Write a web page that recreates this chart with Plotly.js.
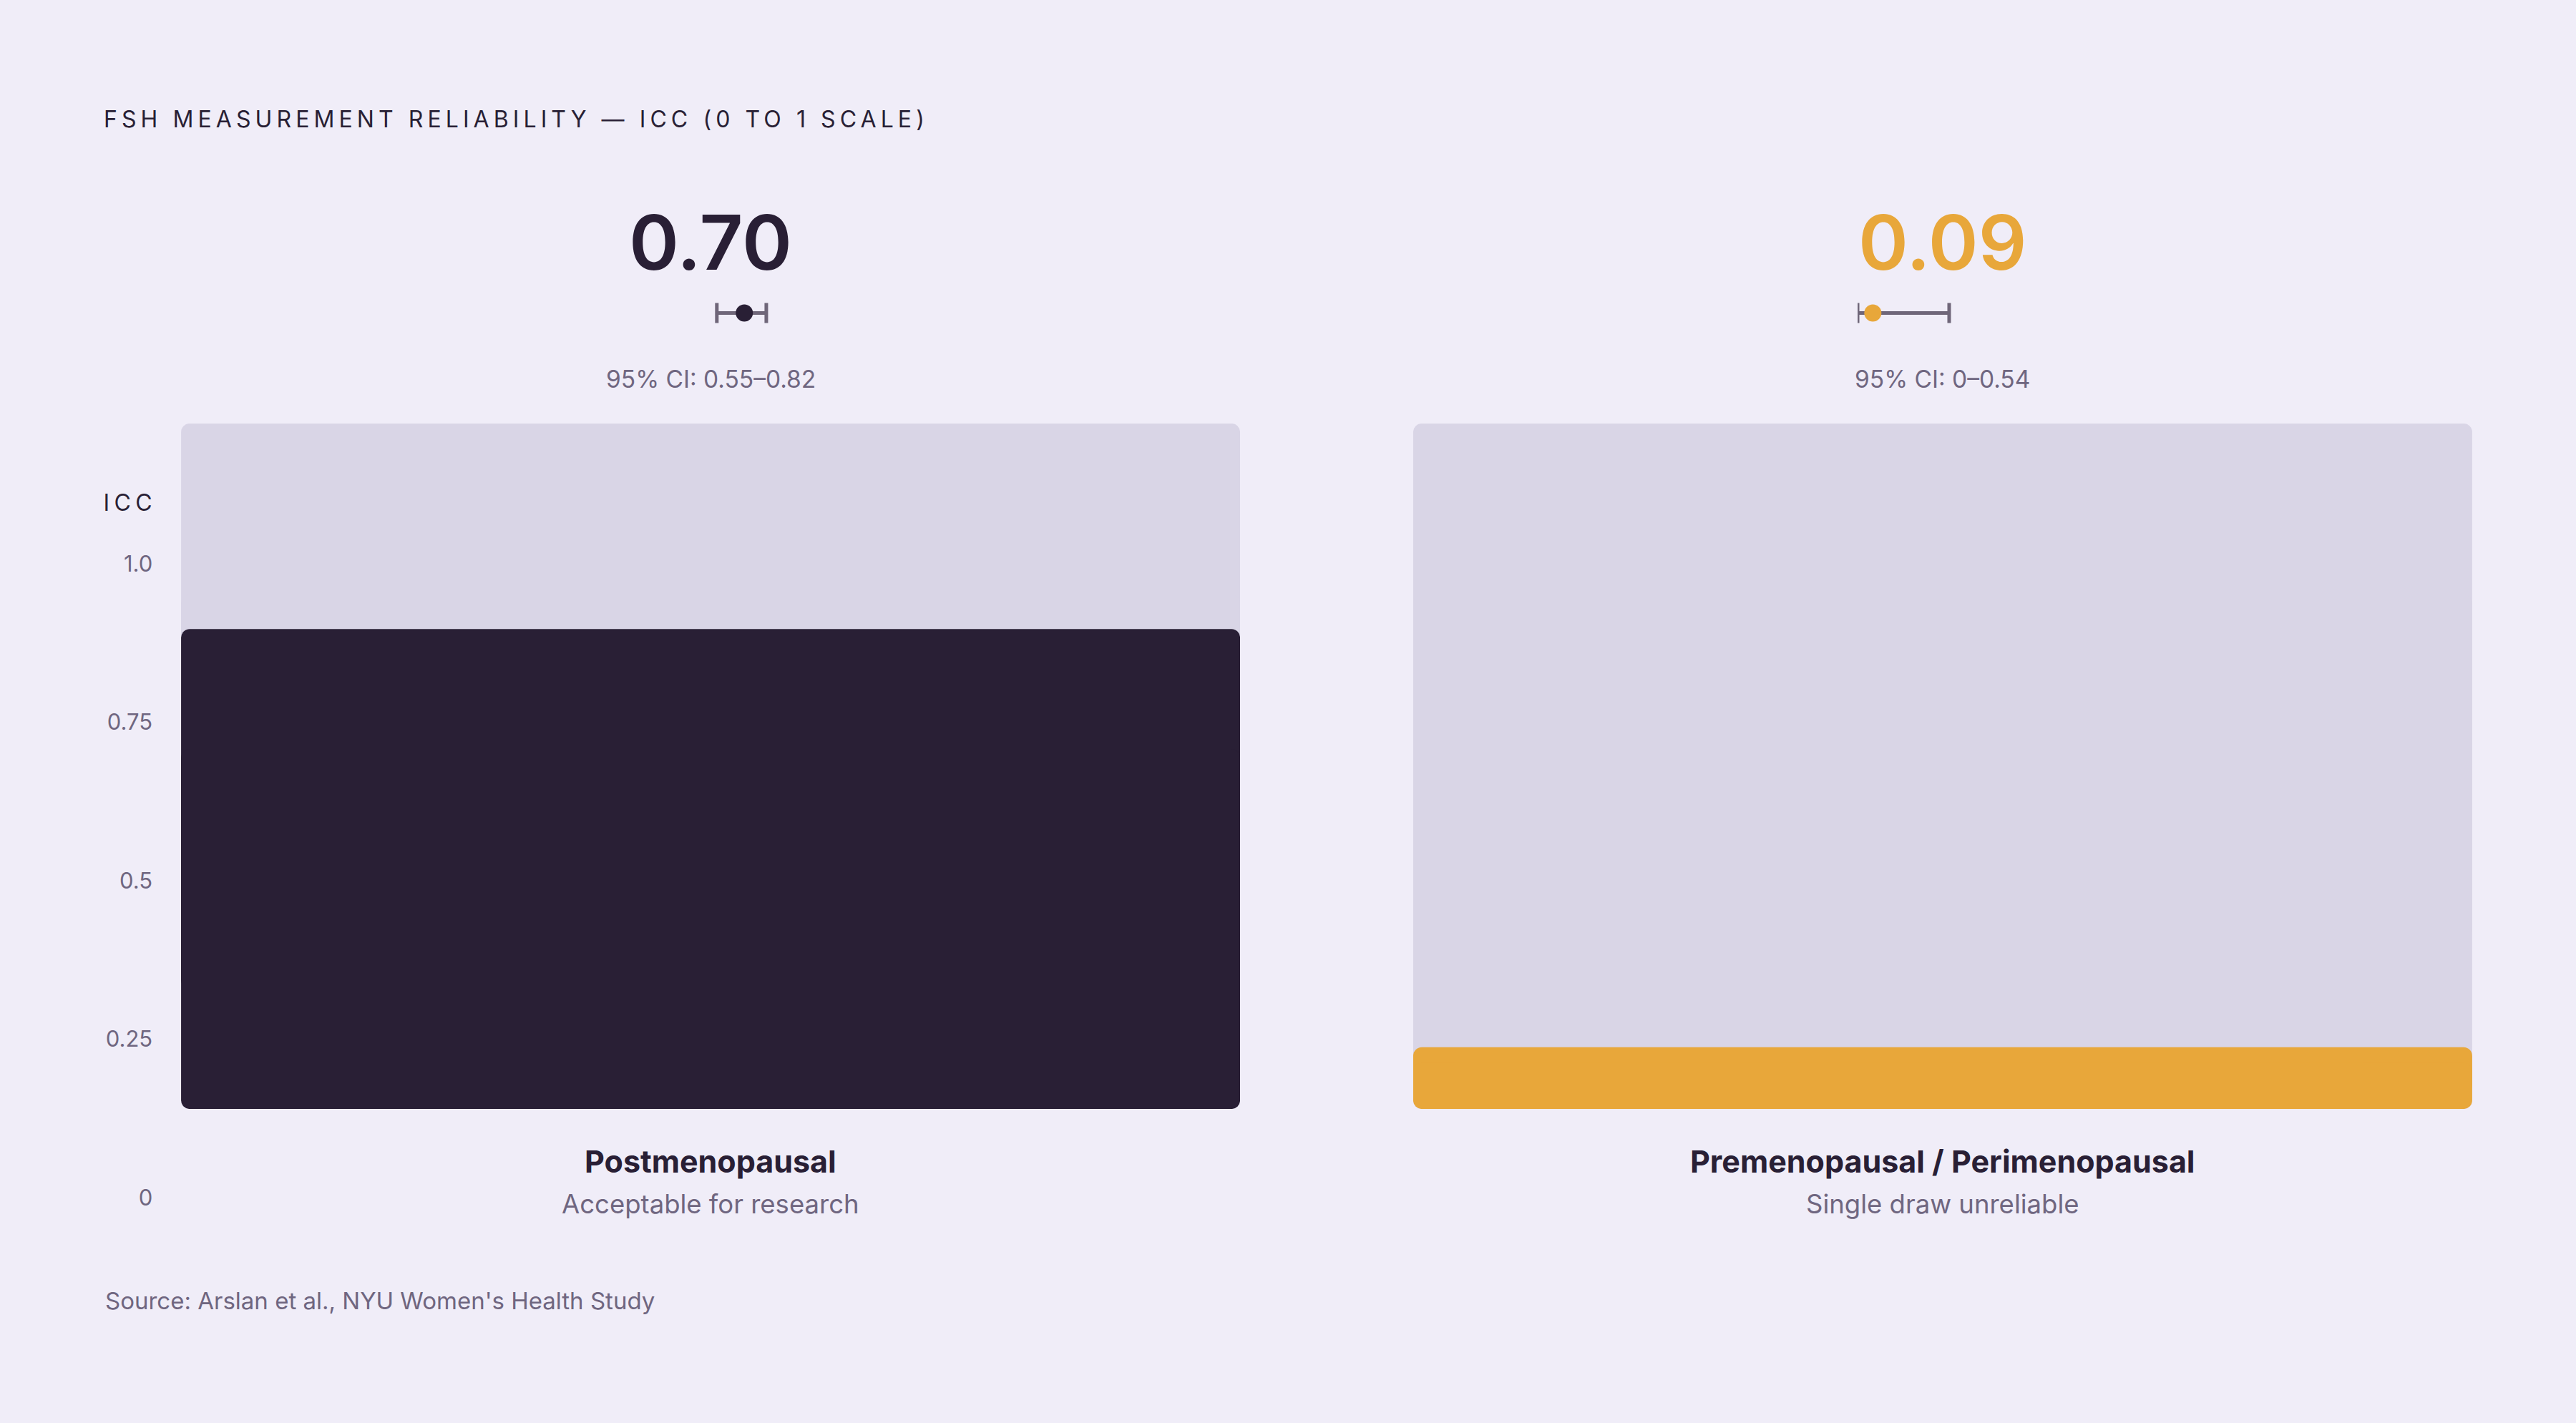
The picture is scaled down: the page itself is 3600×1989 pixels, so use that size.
<!DOCTYPE html>
<html>
<head>
<meta charset="utf-8">
<script src="https://cdn.plot.ly/plotly-3.0.1.min.js"></script>
<style>
  html, body { margin: 0; padding: 0; background: #f0edf8; }
  #chart { width: 3600px; height: 1989px; }
  .gtitle { letter-spacing: 0.19em; }
  .annotation[data-index="0"] text { letter-spacing: 0.2em; }
</style>
</head>
<body>
<div id="chart"></div>
<script>
  const categories = ['Postmenopausal', 'Premenopausal / Perimenopausal'];
  const notes = ['Acceptable for research', 'Single draw unreliable'];
  const iccValues = [0.70, 0.09];
  const ciLow = [0.55, 0];
  const ciHigh = [0.82, 0.54];
  const scaleMax = 1;
  const scaleTicks = [0, 0.25, 0.5, 0.75, 1];
  const scaleTickLabels = ['0', '0.25', '0.5', '0.75', '1.0'];
  const barColors = ['#291f35', '#e8a73a'];

  const bg = '#f0edf8';
  const trackColor = '#d9d5e6';
  const inkColor = '#291f35';
  const mutedColor = '#6f6680';
  const whiskerColor = '#6f6679';
  const font = 'Inter, "Open Sans", sans-serif';

  const barDomains = [[0.0703, 0.4814], [0.5486, 0.9597]];
  const ciDomains = [[861 / 3600, 1117 / 3600], [2596 / 3600, 2833 / 3600]];
  const barY = [0.2207, 0.7024];

  // a bar with rounded ends on both sides: two overlapping halves
  function roundedBar(cat, value, color, axes) {
    const common = {
      type: 'bar', x: [cat], width: [1], xaxis: axes.x, yaxis: axes.y,
      hoverinfo: 'skip', showlegend: false
    };
    return [
      { ...common, base: [value * 0.25], y: [value * 0.75], marker: { color, cornerradius: 12, line: { width: 0 } } },
      { ...common, base: [value * 0.75], y: [-value * 0.75], marker: { color, cornerradius: 12, line: { width: 0 } } }
    ];
  }

  const traces = [];
  const layout = {
    width: 3600,
    height: 1989,
    margin: { l: 0, r: 0, t: 0, b: 0 },
    paper_bgcolor: bg,
    plot_bgcolor: 'rgba(0,0,0,0)',
    barmode: 'overlay',
    showlegend: false,
    font: { family: font, color: inkColor },
    title: {
      text: 'FSH MEASUREMENT RELIABILITY — ICC (0 TO 1 SCALE)',
      x: 145 / 3600, xanchor: 'left', xref: 'paper',
      y: 0.916, yanchor: 'middle', yref: 'paper',
      font: { family: font, size: 32, color: inkColor }
    },
    annotations: [
      {
        text: 'ICC', xref: 'paper', yref: 'paper', x: 152 / 3600, y: 0.6466,
        xanchor: 'left', yanchor: 'middle', showarrow: false,
        font: { family: font, size: 32, color: inkColor }
      },
      {
        text: 'Source: Arslan et al., NYU Women\'s Health Study', xref: 'paper', yref: 'paper',
        x: 145 / 3600, y: 0.086, xanchor: 'left', yanchor: 'middle', showarrow: false,
        font: { family: font, size: 33, color: mutedColor }
      }
    ]
  };

  categories.forEach((cat, i) => {
    const n = i === 0 ? '' : String(i + 1);
    const ciN = String(i + 3);
    const axes = { x: 'x' + n, y: 'y' + n };

    traces.push(...roundedBar(cat, scaleMax, trackColor, axes));
    traces.push(...roundedBar(cat, iccValues[i], barColors[i], axes));

    traces.push({
      type: 'scatter', mode: 'markers', x: [iccValues[i]], y: [0],
      xaxis: 'x' + ciN, yaxis: 'y' + ciN, hoverinfo: 'skip', showlegend: false,
      marker: { size: 24, color: barColors[i] },
      error_x: {
        type: 'data', symmetric: false,
        array: [ciHigh[i] - iccValues[i]], arrayminus: [iccValues[i] - ciLow[i]],
        color: whiskerColor, thickness: 5, width: 14
      }
    });

    layout['xaxis' + n] = {
      domain: barDomains[i], anchor: 'y' + n, type: 'category', range: [-0.5, 0.5],
      visible: false, fixedrange: true
    };
    layout['yaxis' + n] = {
      domain: barY, anchor: 'x' + n, range: [0, scaleMax], visible: false, fixedrange: true
    };
    layout['xaxis' + ciN] = {
      domain: ciDomains[i], anchor: 'y' + ciN, range: [0, scaleMax], visible: false, fixedrange: true
    };
    layout['yaxis' + ciN] = {
      domain: [0.77, 0.79], anchor: 'x' + ciN, range: [-1, 1], visible: false, fixedrange: true
    };

    const centerX = (barDomains[i][0] + barDomains[i][1]) / 2;
    layout.annotations.push(
      {
        text: iccValues[i].toFixed(2), xref: 'paper', yref: 'paper', x: centerX, y: 0.830,
        xanchor: 'center', yanchor: 'middle', showarrow: false,
        font: { family: font, size: 106, weight: 600, color: barColors[i] }
      },
      {
        text: `95% CI: ${ciLow[i]}–${ciHigh[i]}`, xref: 'paper', yref: 'paper', x: centerX, y: 0.7335,
        xanchor: 'center', yanchor: 'middle', showarrow: false,
        font: { family: font, size: 33.5, color: mutedColor }
      },
      {
        text: '<b>' + cat + '</b>', xref: 'paper', yref: 'paper', x: centerX, y: 0.184,
        xanchor: 'center', yanchor: 'middle', showarrow: false,
        font: { family: font, size: 43, color: inkColor }
      },
      {
        text: notes[i], xref: 'paper', yref: 'paper', x: centerX, y: 0.1538,
        xanchor: 'center', yanchor: 'middle', showarrow: false,
        font: { family: font, size: 36.5, color: mutedColor }
      }
    );
  });

  // scale axis, drawn on its own invisible subplot
  traces.push({
    type: 'scatter', mode: 'markers', x: [0, 0], y: [scaleTicks[0], scaleTicks[scaleTicks.length - 1]],
    xaxis: 'x5', yaxis: 'y5', marker: { opacity: 0 }, hoverinfo: 'skip', showlegend: false
  });
  layout.xaxis5 = { domain: [0.0595, 0.062], anchor: 'y5', visible: false, fixedrange: true };
  layout.yaxis5 = {
    domain: [0.1584, 0.6038], anchor: 'x5', range: [0, scaleMax], side: 'left',
    tickvals: scaleTicks, ticktext: scaleTickLabels, ticks: '', showline: false,
    showgrid: false, zeroline: false, fixedrange: true,
    tickfont: { family: font, size: 31, color: mutedColor }
  };

  Plotly.newPlot('chart', traces, layout, { displayModeBar: false, staticPlot: true });
</script>
</body>
</html>
